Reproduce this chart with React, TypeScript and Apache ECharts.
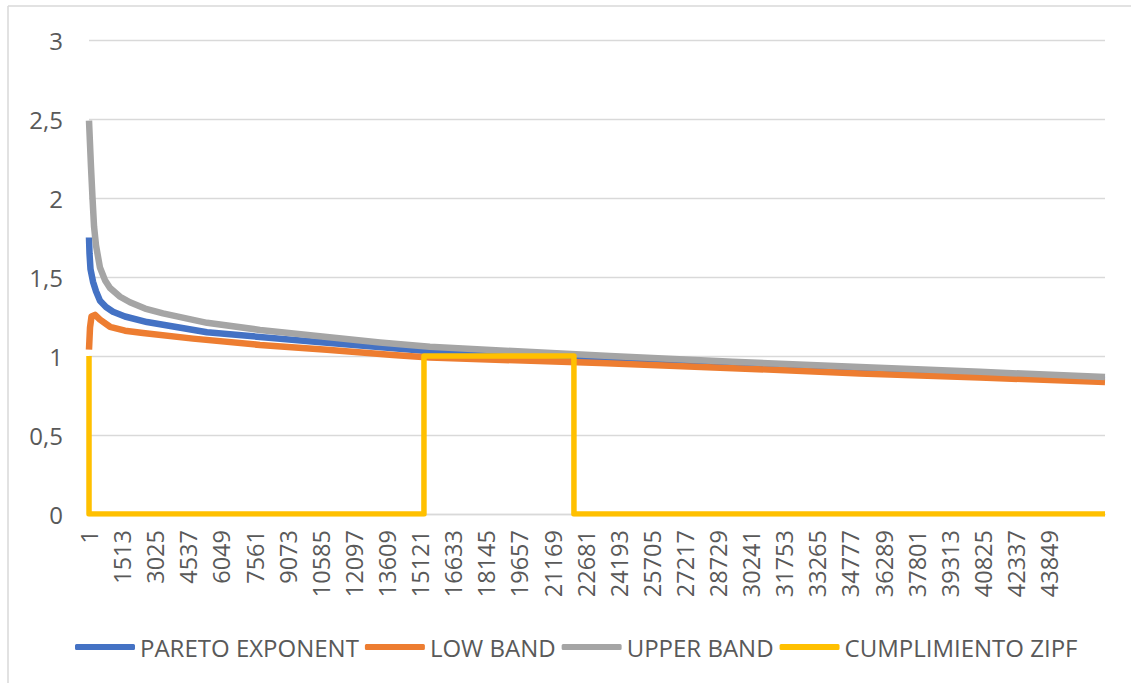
import React, { useEffect, useRef } from "react";
import * as echarts from "echarts";

// x = rank index (0-based, label shows rank = index + 1)
const upperIdx = [0, 90, 160, 230, 320, 500, 730, 960, 1420, 1870, 2560, 3380, 5390, 7810, 10870, 13290, 15570, 23790, 29400, 35210, 40690, 46400];
const upperVal = [2.49, 2.2, 2.0, 1.82, 1.7, 1.56, 1.48, 1.43, 1.375, 1.34, 1.3, 1.27, 1.21, 1.165, 1.12, 1.085, 1.058, 1.0, 0.964, 0.93, 0.9, 0.867];

const paretoIdx = [0, 23, 68, 183, 320, 502, 776, 1096, 1644, 2648, 5388, 10320, 15571, 23790, 29400, 35205, 40690, 46400];
const paretoVal = [1.75, 1.65, 1.55, 1.47, 1.41, 1.35, 1.31, 1.28, 1.25, 1.215, 1.15, 1.09, 1.03, 0.975, 0.943, 0.91, 0.882, 0.85];

const lowIdx = [0, 46, 114, 274, 502, 959, 1644, 2466, 4749, 7808, 10868, 13881, 15571, 23333, 29400, 35205, 40690, 46400];
const lowVal = [1.04, 1.18, 1.25, 1.26, 1.23, 1.185, 1.16, 1.145, 1.11, 1.07, 1.04, 1.006, 0.99, 0.955, 0.923, 0.89, 0.864, 0.835];

const zipfIdx = [0, 1, 15297, 15298, 22146, 22147, 46400];
const zipfVal = [1, 0, 0, 1, 1, 0, 0];

const seriesNames = ["PARETO EXPONENT", "LOW BAND", "UPPER BAND", "CUMPLIMIENTO ZIPF"];
const seriesColors = ["#4472C4", "#ED7D31", "#A5A5A5", "#FFC000"];

const LAST_INDEX = 46400;
const TICK_STEP = 1512;

const pairs = (xs: number[], ys: number[]) => xs.map((x, i) => [x, ys[i]]);

export default function App() {
  const ref = useRef<HTMLDivElement>(null);
  useEffect(() => {
    if (!ref.current) return;
    const chart = echarts.init(ref.current, null, { renderer: "svg" });
    const font = "Open Sans";
    const textColor = "#595959";
    const gridColor = "#D9D9D9";
    const datasets = [
      pairs(paretoIdx, paretoVal),
      pairs(lowIdx, lowVal),
      pairs(upperIdx, upperVal),
      pairs(zipfIdx, zipfVal),
    ];
    chart.setOption({
      animation: false,
      backgroundColor: "#ffffff",
      graphic: [
        { type: "line", shape: { x1: 8, y1: 6, x2: 1131, y2: 6 }, style: { stroke: gridColor, lineWidth: 1.5 } },
        { type: "line", shape: { x1: 8, y1: 6, x2: 8, y2: 683 }, style: { stroke: gridColor, lineWidth: 1.5 } },
      ],
      grid: { left: 89, right: 26, top: 40, bottom: 169, containLabel: false },
      legend: {
        data: seriesNames,
        left: 70,
        top: 630,
        icon: "roundRect",
        itemWidth: 60,
        itemHeight: 6,
        itemGap: 6,
        textStyle: { fontFamily: font, fontSize: 24, color: textColor },
      },
      xAxis: {
        type: "value",
        min: 0,
        max: LAST_INDEX,
        interval: TICK_STEP,
        splitLine: { show: false },
        axisTick: { show: false },
        axisLine: { show: true, lineStyle: { color: gridColor, width: 1.3 } },
        axisLabel: {
          rotate: 90,
          margin: 16,
          fontFamily: font,
          fontSize: 23.5,
          color: textColor,
          showMaxLabel: false,
          formatter: (v: number) => (v > 44000 ? "" : String(v + 1)),
        },
      },
      yAxis: {
        type: "value",
        min: 0,
        max: 3,
        interval: 0.5,
        axisLine: { show: false },
        axisTick: { show: false },
        splitLine: { lineStyle: { color: gridColor, width: 1.3 } },
        axisLabel: {
          margin: 26,
          fontFamily: font,
          fontSize: 24,
          color: textColor,
          formatter: (v: number) => String(v).replace(".", ","),
        },
      },
      series: seriesNames.map((name, i) => ({
        name,
        type: "line",
        data: datasets[i],
        showSymbol: false,
        symbol: "none",
        smooth: false,
        color: seriesColors[i],
        lineStyle: { color: seriesColors[i], width: i === 3 ? 5.5 : 6.5, join: "round" },
      })),
    });
    return () => chart.dispose();
  }, []);
  return (
    <div
      ref={ref}
      style={{ position: "fixed", left: 0, top: 0, width: 1131, height: 683, background: "#fff" }}
    />
  );
}
